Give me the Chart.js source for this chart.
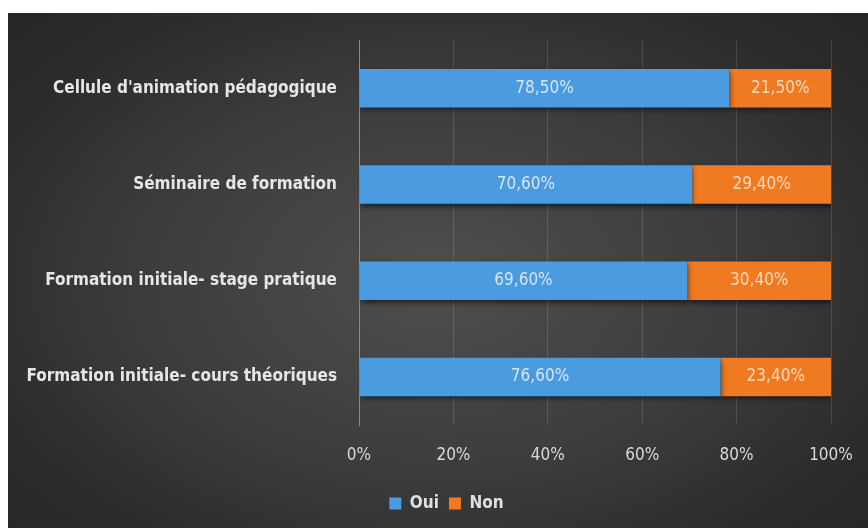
<!DOCTYPE html>
<html>
<head>
<meta charset="utf-8">
<script src="https://cdn.jsdelivr.net/npm/chart.js@4.4.1/dist/chart.umd.min.js"></script>
<style>
  html, body { margin: 0; padding: 0; background: #ffffff; width: 868px; height: 528px; overflow: hidden; }
  #wrap { position: absolute; left: 8px; top: 13px; width: 860px; height: 515px;
    background: radial-gradient(ellipse 70% 75% at 50% 52%, #4e4e4e 0%, #3e3e3e 45%, #2c2c2c 80%, #252525 100%); }
  canvas { display: block; }
</style>
</head>
<body>
<div id="wrap"><canvas id="c" width="860" height="515"></canvas></div>
<script>
const categories = [
  "Cellule d'animation pédagogique",
  "Séminaire de formation",
  "Formation initiale- stage pratique",
  "Formation initiale- cours théoriques"
];
const seriesNames = ["Oui", "Non"];
const ouiValues = [78.5, 70.6, 69.6, 76.6];
const nonValues = [21.5, 29.4, 30.4, 23.4];
const xTickValues = [0, 20, 40, 60, 80, 100];

const FONT = "'DejaVu Sans Condensed', 'Liberation Sans Narrow', sans-serif";

function fmt(v) { return v.toFixed(2).replace('.', ',') + '%'; }

const shadowPlugin = {
  id: 'barShadow',
  beforeDatasetsDraw(chart) {
    const ctx = chart.ctx;
    ctx.save();
    ctx.shadowColor = 'rgba(0,0,0,0.55)';
    ctx.shadowBlur = 5;
    ctx.shadowOffsetX = 1;
    ctx.shadowOffsetY = 3;
  },
  afterDatasetsDraw(chart) {
    chart.ctx.restore();
  }
};

const labelPlugin = {
  id: 'valueLabels',
  afterDatasetsDraw(chart) {
    const ctx = chart.ctx;
    ctx.save();
    ctx.font = "17px " + FONT;
    ctx.textAlign = 'center';
    ctx.textBaseline = 'middle';
    chart.data.datasets.forEach((ds, di) => {
      const meta = chart.getDatasetMeta(di);
      ctx.fillStyle = di === 0 ? 'rgba(225,236,248,0.92)' : 'rgba(252,222,196,0.95)';
      meta.data.forEach((bar, i) => {
        const x = (bar.x + bar.base) / 2;
        ctx.fillText(fmt(ds.data[i]), x, bar.y);
      });
    });
    ctx.restore();
  }
};

const legendShift = {
  id: 'legendShift',
  afterLayout(chart) {
    if (chart.legend) { chart.legend.left += 27; chart.legend.right += 27; }
  }
};

new Chart(document.getElementById('c'), {
  type: 'bar',
  data: {
    labels: categories,
    datasets: [
      { label: seriesNames[0], data: ouiValues, backgroundColor: '#4b9be0', borderWidth: 0,
        categoryPercentage: 0.8, barPercentage: 0.5 },
      { label: seriesNames[1], data: nonValues, backgroundColor: '#f07a22', borderWidth: 0,
        categoryPercentage: 0.8, barPercentage: 0.5 }
    ]
  },
  options: {
    indexAxis: 'y',
    responsive: false,
    animation: false,
    devicePixelRatio: 1,
    layout: { padding: { top: 27, right: 37, bottom: 6, left: 0 } },
    scales: {
      x: {
        stacked: true,
        min: 0, max: 100,
        afterBuildTicks(scale) { scale.ticks = xTickValues.map(v => ({ value: v })); },
        afterFit(scale) { scale.height = 60; scale.paddingLeft = 0; scale.paddingRight = 0; },
        border: { display: false },
        grid: {
          drawTicks: false,
          color: (c) => c.index === 0 ? 'rgba(0,0,0,0)' : 'rgba(255,255,255,0.13)',
          lineWidth: 1
        },
        ticks: {
          padding: 20,
          color: '#d9d9d9',
          font: { family: FONT, size: 17 },
          callback: (v) => v + '%'
        }
      },
      y: {
        stacked: true,
        afterFit(scale) { scale.width = 351; scale.paddingTop = 0; scale.paddingBottom = 0; },
        border: { display: true, color: '#8a8a8a', width: 1 },
        grid: { display: false, drawTicks: false },
        ticks: {
          padding: 22,
          color: '#e6e6e6',
          font: { family: FONT, size: 17, weight: 'bold' }
        }
      }
    },
    plugins: {
      legend: {
        position: 'bottom',
        labels: {
          color: '#e0e0e0',
          boxWidth: 12, boxHeight: 12,
          padding: 10,
          font: { family: FONT, size: 17, weight: 'bold' }
        }
      },
      tooltip: { enabled: false }
    }
  },
  plugins: [shadowPlugin, labelPlugin, legendShift]
});
</script>
</body>
</html>
